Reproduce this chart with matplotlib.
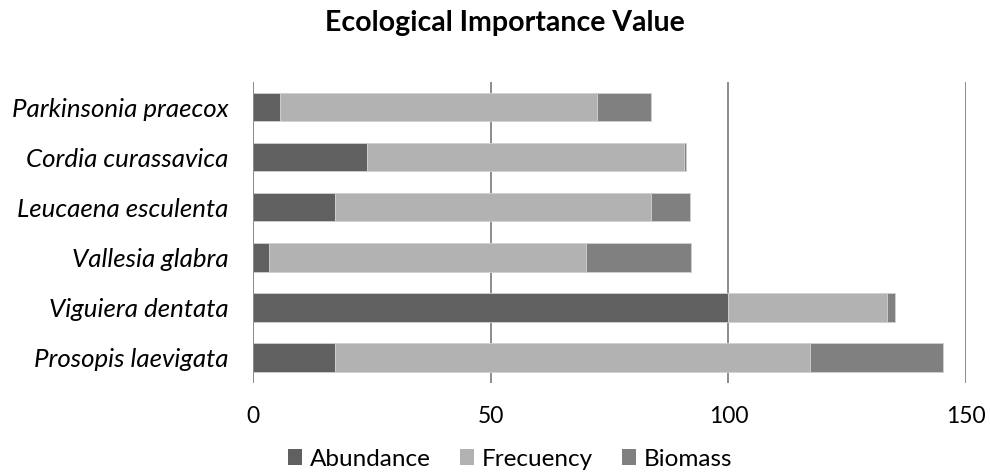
import matplotlib.pyplot as plt
from matplotlib.patches import Patch

# species listed bottom to top, as drawn
species = ['Prosopis laevigata', 'Viguiera dentata', 'Vallesia glabra',
           'Leucaena esculenta', 'Cordia curassavica', 'Parkinsonia praecox']
abundance = [17.1, 100.0, 3.4, 17.1, 23.9, 5.6]
frecuency = [100.0, 33.3, 66.7, 66.7, 66.7, 66.7]
biomass = [28.1, 1.8, 22.0, 8.2, 0.4, 11.5]
x_ticks = [0, 50, 100, 150]

colors = {'Abundance': '#606060', 'Frecuency': '#b2b2b2', 'Biomass': '#808080'}

plt.rcParams['font.family'] = ['Lato', 'DejaVu Sans']

fig = plt.figure(figsize=(9.9, 4.75), dpi=100)
ax = fig.add_axes([253.3 / 990, 1 - 382.5 / 475, (966 - 253.3) / 990, 300.5 / 475])

ypos = list(range(len(species)))
left_f = [a for a in abundance]
left_b = [a + f for a, f in zip(abundance, frecuency)]
h = 0.57
ax.barh(ypos, abundance, height=h, color=colors['Abundance'], edgecolor='#d0d0d0', linewidth=0.6, zorder=3)
ax.barh(ypos, frecuency, left=left_f, height=h, color=colors['Frecuency'], edgecolor='#d0d0d0', linewidth=0.6, zorder=3)
ax.barh(ypos, biomass, left=left_b, height=h, color=colors['Biomass'], edgecolor='#d0d0d0', linewidth=0.6, zorder=3)

ax.set_xlim(0, 150)
ax.set_ylim(-0.5, len(species) - 0.5)
ax.set_xticks(x_ticks)
ax.set_xticklabels([str(t) for t in x_ticks], fontsize=16.5)
ax.set_yticks(ypos)
ax.set_yticklabels(species, fontsize=18.6, style='italic')
ax.tick_params(axis='x', length=0, pad=17)
ax.tick_params(axis='y', length=0, pad=18)
for s in ax.spines.values():
    s.set_visible(False)
ax.grid(axis='x', color='#8c8c8c', linewidth=1.4, zorder=0)
ax.axvline(0, color='#8c8c8c', linewidth=1.4, zorder=4)

fig.text(504.5 / 990, 1 - 23 / 475, 'Ecological Importance Value', ha='center', va='center',
         fontsize=20.5, fontweight='bold')

handles = [Patch(facecolor=c, edgecolor='none', label=k) for k, c in colors.items()]
fig.legend(handles=handles, loc='center', bbox_to_anchor=(510 / 990, 1 - 459 / 475), ncol=3,
           frameon=False, fontsize=17.5, handlelength=0.6, handleheight=0.6,
           handletextpad=0.3, columnspacing=1.2, borderpad=0)

fig.savefig('out.png', dpi=100)
